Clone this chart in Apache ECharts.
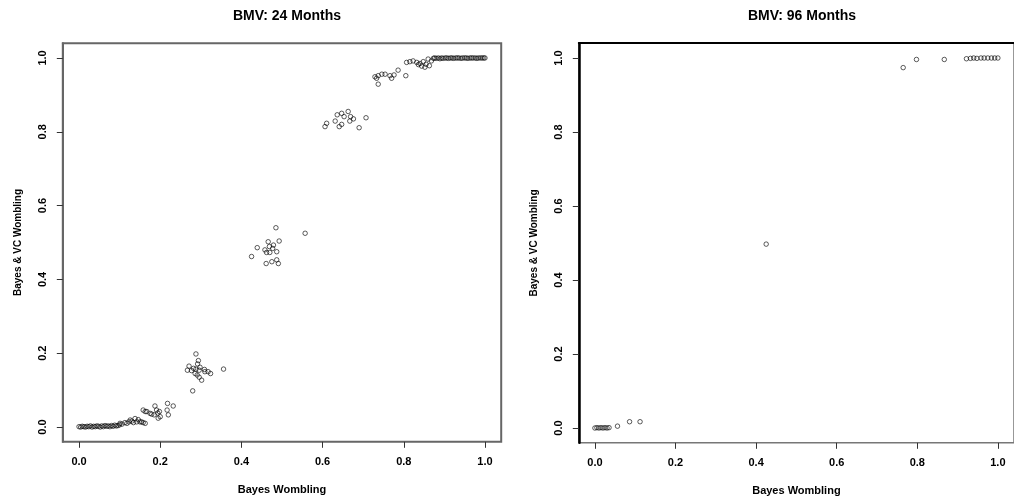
<!DOCTYPE html>
<html>
<head>
<meta charset="utf-8">
<script src="https://cdn.jsdelivr.net/npm/echarts@6/dist/echarts.min.js"></script>
<style>
html,body{margin:0;padding:0;background:#fff;}
#chart{width:1014px;height:504px;}
</style>
</head>
<body>
<div id="chart"></div>
<script>
// ---- data ----
var tickValues = [0, 0.2, 0.4, 0.6, 0.8, 1.0];
var tickLabels = ['0.0', '0.2', '0.4', '0.6', '0.8', '1.0'];
var titles = ['BMV: 24 Months', 'BMV: 96 Months'];
var xTitle = 'Bayes Wombling';
var yTitle = 'Bayes & VC Wombling';

var bmv24X = [
  0.000,0.004,0.008,0.012,0.016,0.020,0.024,0.028,0.032,0.036,0.040,0.044,0.048,0.052,0.056,0.060,0.064,0.068,0.072,0.076,0.080,0.084,0.088,0.092,0.096,0.100,
  0.101,0.106,0.113,0.118,0.123,0.126,0.130,0.134,0.138,0.142,0.146,0.150,0.154,0.158,0.163,
  0.158,0.163,0.167,0.175,0.179,0.185,0.187,0.191,0.195,0.198,0.200,0.194,0.217,0.218,0.220,0.232,
  0.280,0.267,0.271,0.277,0.282,0.286,0.288,0.288,0.291,0.292,0.294,0.296,0.296,0.298,0.302,0.309,0.310,0.318,0.324,0.356,
  0.425,0.439,0.458,0.462,0.466,0.469,0.470,0.461,0.475,0.477,0.479,0.485,0.487,0.487,0.491,0.493,0.557,
  0.606,0.610,0.631,0.636,0.641,0.647,0.647,0.653,0.663,0.667,0.669,0.676,0.690,0.707,
  0.729,0.733,0.737,0.737,0.746,0.754,0.766,0.770,0.776,0.786,0.805,
  0.807,0.815,0.823,0.832,0.836,0.840,0.844,0.848,0.852,0.855,0.860,0.863,0.868,0.873,
  0.876,0.880,0.885,0.889,0.893,0.897,0.902,0.906,0.910,0.915,0.919,0.923,0.928,0.932,0.936,0.941,0.945,0.950,0.954,0.958,0.963,0.967,0.971,0.976,0.980,0.984,0.989,0.993,0.997,1.000
];
var bmv24Y = [
  0.001,0.000,0.002,0.001,0.000,0.002,0.001,0.003,0.000,0.002,0.001,0.003,0.002,0.000,0.003,0.001,0.004,0.002,0.003,0.001,0.004,0.002,0.005,0.003,0.004,0.006,
  0.010,0.008,0.012,0.010,0.014,0.019,0.016,0.012,0.023,0.014,0.020,0.014,0.014,0.012,0.010,
  0.046,0.042,0.042,0.037,0.035,0.033,0.057,0.046,0.024,0.042,0.028,0.038,0.046,0.064,0.033,0.057,
  0.098,0.154,0.165,0.153,0.159,0.145,0.157,0.198,0.141,0.171,0.180,0.154,0.135,0.162,0.127,0.156,0.150,0.150,0.145,0.157,
  0.462,0.486,0.480,0.473,0.502,0.489,0.473,0.443,0.448,0.484,0.493,0.540,0.475,0.453,0.443,0.504,0.525,
  0.814,0.823,0.829,0.846,0.814,0.820,0.850,0.841,0.855,0.829,0.841,0.835,0.811,0.838,
  0.949,0.945,0.929,0.952,0.956,0.956,0.952,0.945,0.954,0.967,0.952,
  0.988,0.990,0.992,0.988,0.982,0.985,0.978,0.990,0.975,0.983,0.997,0.979,0.992,0.999,
  1.000,0.999,1.000,0.998,1.000,0.999,1.000,1.000,0.999,1.000,1.000,0.999,1.000,1.000,1.000,0.999,1.000,1.000,1.000,0.999,1.000,1.000,1.000,1.000,0.999,1.000,1.000,1.000,1.000,1.000
];
var bmv96X = [0.000,0.005,0.010,0.015,0.020,0.025,0.030,0.035,0.056,0.086,0.112,0.425,0.765,0.798,0.867,0.922,0.932,0.940,0.948,0.958,0.966,0.975,0.984,0.992,1.000];
var bmv96Y = [0.000,0.001,0.000,0.001,0.000,0.001,0.000,0.001,0.005,0.017,0.017,0.497,0.974,0.996,0.996,0.998,0.999,1.000,0.999,1.000,1.000,1.000,1.000,1.000,1.000];

function pairs(xs, ys) {
  var out = [];
  for (var i = 0; i < xs.length; i++) out.push([xs[i], ys[i]]);
  return out;
}

var FONT = '"Liberation Sans", Arial, sans-serif';

function xAxisDef(gi) {
  return {
    type: 'value', gridIndex: gi, min: -0.04, max: 1.04, position: 'bottom',
    splitLine: {show: false},
    axisLine: {show: false, onZero: false},
    axisTick: {show: true, length: 6, customValues: tickValues, lineStyle: {color: '#333', width: 1}},
    axisLabel: {
      customValues: tickValues, margin: 15,
      formatter: function (v) { return v.toFixed(1); },
      color: '#000', fontWeight: 'bold', fontSize: 11, fontFamily: FONT
    },
    name: xTitle, nameLocation: 'middle', nameGap: 43,
    nameTextStyle: {color: '#000', fontWeight: 'bold', fontSize: 11, fontFamily: FONT}
  };
}
function yAxisDef(gi, lineColor, lineWidth) {
  return {
    type: 'value', gridIndex: gi, min: -0.04, max: 1.04, position: 'left',
    splitLine: {show: false},
    axisLine: {show: true, onZero: false, lineStyle: {color: lineColor, width: lineWidth}},
    axisTick: {show: true, length: 6, customValues: tickValues, lineStyle: {color: '#333', width: 1}},
    axisLabel: {
      customValues: tickValues, rotate: 90, margin: 14,
      formatter: function (v) { return v.toFixed(1); },
      color: '#000', fontWeight: 'bold', fontSize: 11, fontFamily: FONT
    },
    name: yTitle, nameLocation: 'middle', nameGap: 40,
    nameTextStyle: {color: '#000', fontWeight: 'bold', fontSize: 10, fontFamily: FONT}
  };
}

var markerStyle = {color: 'rgba(255,255,255,0)', borderColor: '#000', borderWidth: 0.8};

var chart = echarts.init(document.getElementById('chart'), null, {renderer: 'canvas'});
chart.setOption({
  animation: false,
  backgroundColor: '#fff',
  title: [
    {text: titles[0], left: 282, top: 4, textAlign: 'center',
     textStyle: {fontSize: 14, fontWeight: 'bold', color: '#000', fontFamily: FONT}},
    {text: titles[1], left: 797, top: 4, textAlign: 'center',
     textStyle: {fontSize: 14, fontWeight: 'bold', color: '#000', fontFamily: FONT}}
  ],
  grid: [
    {left: 62.8, top: 43.2, width: 438.4, height: 398.6, show: true, borderColor: '#666', borderWidth: 2, containLabel: false},
    {left: 578.8, top: 43.2, width: 437.4, height: 399.6, show: true, borderColor: '#777', borderWidth: 1.5, containLabel: false}
  ],
  xAxis: [
    xAxisDef(0),
    xAxisDef(1),
    {type: 'value', gridIndex: 1, position: 'top', min: -0.04, max: 1.04,
     splitLine: {show: false}, axisTick: {show: false}, axisLabel: {show: false},
     axisLine: {show: true, onZero: false, lineStyle: {color: '#000', width: 2}}}
  ],
  yAxis: [
    yAxisDef(0, '#666', 2),
    yAxisDef(1, '#000', 2.5)
  ],
  series: [
    {type: 'scatter', xAxisIndex: 0, yAxisIndex: 0, data: pairs(bmv24X, bmv24Y),
     symbol: 'circle', symbolSize: 4.5, itemStyle: markerStyle},
    {type: 'scatter', xAxisIndex: 1, yAxisIndex: 1, data: pairs(bmv96X, bmv96Y),
     symbol: 'circle', symbolSize: 4.5, itemStyle: markerStyle}
  ]
});
</script>
</body>
</html>
